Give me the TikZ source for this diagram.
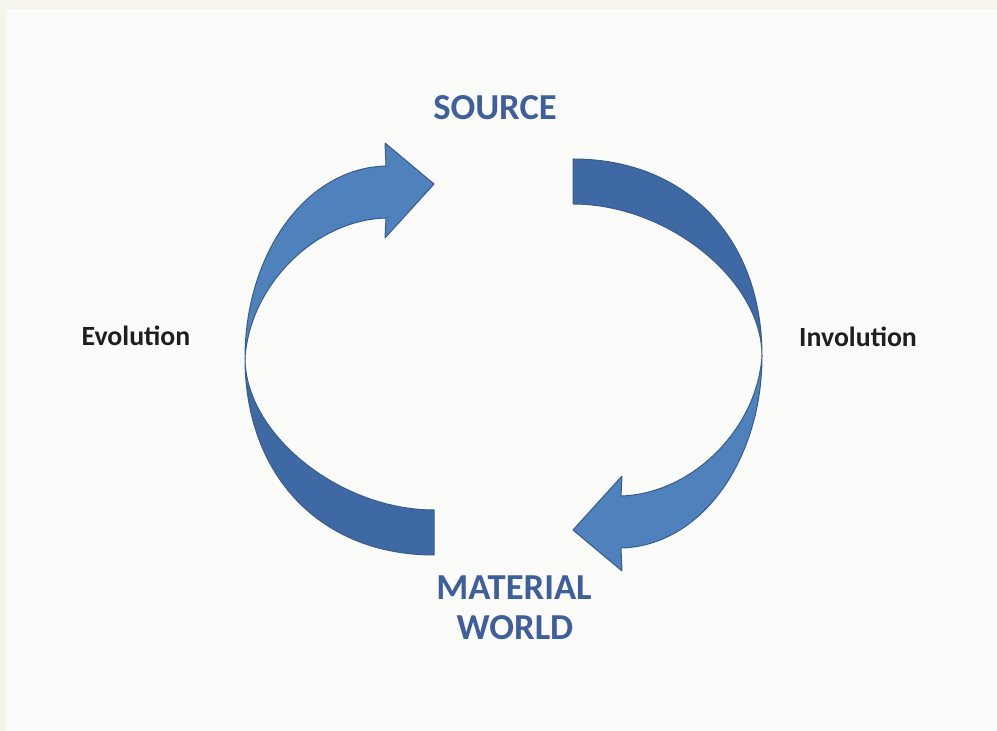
\documentclass[tikz,border=0pt]{standalone}
\usepackage{fontspec}
\setmainfont{Carlito}
\definecolor{frontblue}{HTML}{4F81BD}
\definecolor{backblue}{HTML}{3F69A4}
\definecolor{edgeblue}{HTML}{385D8A}
\definecolor{wordblue}{HTML}{3E5F9C}
\definecolor{paper}{HTML}{F5F5EC}
\definecolor{sheet}{HTML}{FBFBFA}
\tikzset{front/.style={fill=frontblue,draw=edgeblue,line width=0.5pt,line join=round}}
\tikzset{back/.style={fill=backblue,draw=edgeblue,line width=0.5pt,line join=round}}
\tikzset{bigword/.style={anchor=base,inner sep=0pt,text=wordblue,font=\fontsize{18.3}{20}\selectfont\bfseries}}
\tikzset{sideword/.style={anchor=base,inner sep=0pt,text=black!88,font=\fontsize{13.9}{16}\selectfont\bfseries}}

\begin{document}
\begin{tikzpicture}[x=0.5pt,y=-0.5pt]
  \fill[paper] (0,0) rectangle (997,731);
  \fill[sheet] (6,9) rectangle (997,731);
  \useasboundingbox (0,0) rectangle (997,731);

  % the two curved arrows, one turned half round the middle
  \foreach \r in {0,180}{
    \begin{scope}[rotate around={\r:(503.5,357)}]
      \draw[back] (434,555) .. controls (321,555) and (245,476) .. (245,358)
                  .. controls (245,434) and (339.5,510) .. (434,510) -- cycle;
      \draw[front] (245,358) .. controls (245,255) and (305,168) .. (386,166)
                  -- (385,143) -- (434,184) -- (385,238) -- (386,218)
                  .. controls (315,220) and (250,285) .. (245,358) -- cycle;
    \end{scope}
  };

  \node[bigword] (src) at (495,120) {SOURCE};
  \node[bigword] (mat) at (514,600) {MATERIAL};
  \node[bigword] (wld) at (515,640) {WORLD};
  \node[sideword] (evo) at (136,346) {Evolution};
  \node[sideword] (inv) at (858,347) {Involution};
\end{tikzpicture}
\end{document}
